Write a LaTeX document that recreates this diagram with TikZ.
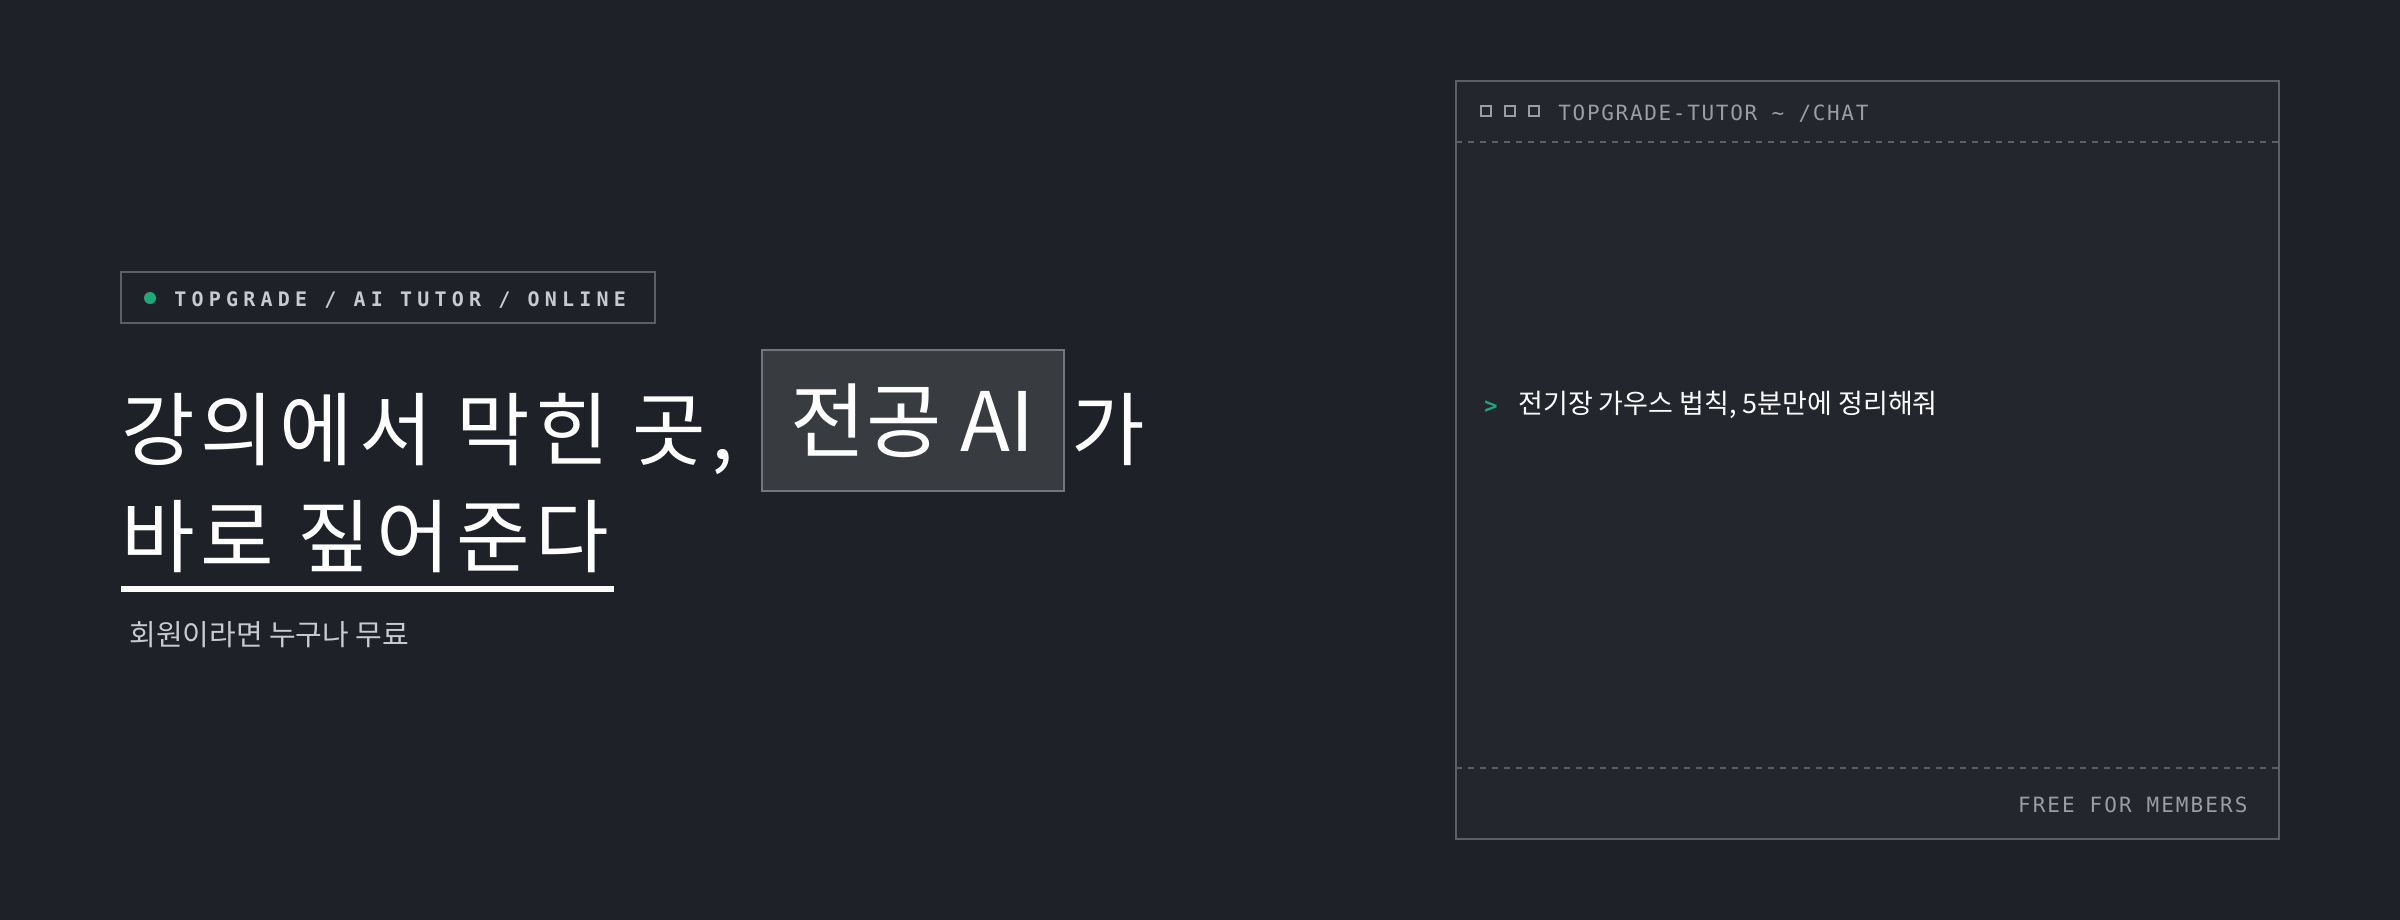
\documentclass[tikz,border=0pt]{standalone}
\usepackage{fontspec}
\setmainfont{Noto Sans CJK KR}
\newfontfamily\kr{Noto Sans CJK KR}
\newfontfamily\mono{DejaVu Sans Mono}
\usetikzlibrary{positioning}
\definecolor{bgdark}{HTML}{1F2128}
\definecolor{termbg}{HTML}{23262D}
\definecolor{termline}{HTML}{5C5F65}
\definecolor{hlbox}{HTML}{383B40}
\definecolor{hlline}{HTML}{73767A}
\definecolor{accent}{HTML}{1FA97A}
\definecolor{softtext}{HTML}{C8CACD}
\definecolor{dimtext}{HTML}{9A9DA1}
\tikzset{
  px/.style={x=0.5pt,y=-0.5pt},
  headline/.style={anchor=base west,inner sep=0pt,text=white,font=\kr\fontsize{40}{48}\selectfont},
  monotag/.style={anchor=base west,inner sep=0pt,font=\mono\fontsize{10}{12}\selectfont},
  winbtn/.style={draw=dimtext,line width=0.8pt,minimum size=5pt,inner sep=0pt},
}
\begin{document}
\begin{tikzpicture}[px]
\fill[bgdark] (0,0) rectangle (2400,920);
\useasboundingbox (0,0) rectangle (2400,920);
% tag line
\draw[termline,line width=1pt] (121,272) rectangle (655,323);
\fill[accent] (150,298) circle (6);
\node[monotag,text=softtext] (tag) at (174,306) {\bfseries\addfontfeature{LetterSpace=26}TOPGRADE / AI TUTOR / ONLINE};
% headline
\node[headline] (lineA) at (121,459) {\addfontfeature{LetterSpace=7}강의에서 막힌 곳,};
\node[draw=hlline,fill=hlbox,line width=1pt,minimum width=151pt,minimum height=70.5pt,inner sep=0pt,text=white,font=\kr\fontsize{41}{48}\selectfont] (major) at (912.5,420.5) {전공 AI};
\node[headline] (lineB) at (1071,459) {가};
\node[headline] (lineC) at (121,566) {\addfontfeature{LetterSpace=7}바로 짚어준다};
\draw[white,line width=3pt] (121,589) -- (614,589);
\node[anchor=base west,inner sep=0pt,text=softtext,font=\kr\fontsize{14.5}{17}\selectfont] (sub) at (129,645) {회원이라면 누구나 무료};
% terminal window
\draw[termline,fill=termbg,line width=1pt] (1456,81) rectangle (2279,839);
\draw[termline,dashed,line width=0.8pt] (1456,142) -- (2279,142);
\draw[termline,dashed,line width=0.8pt] (1456,768) -- (2279,768);
\foreach \bx in {1486,1510,1534}
  \node[winbtn] at (\bx,111) {};
\node[monotag,text=dimtext,font=\mono\fontsize{10.5}{12}\selectfont] (title) at (1558,120) {\addfontfeature{LetterSpace=8}TOPGRADE-TUTOR \textasciitilde{} /CHAT};
\node[monotag,text=accent,font=\mono\bfseries\fontsize{11}{13}\selectfont] (prompt) at (1484,413) {>};
\node[anchor=base west,inner sep=0pt,text=white,font=\kr\fontsize{13.5}{16}\selectfont] (ask) at (1518,413) {전기장 가우스 법칙, 5분만에 정리해줘};
\node[monotag,anchor=base east,text=dimtext,font=\mono\fontsize{10.5}{12}\selectfont] (foot) at (2248,812) {\addfontfeature{LetterSpace=10}FREE FOR MEMBERS};
\end{tikzpicture}
\end{document}
